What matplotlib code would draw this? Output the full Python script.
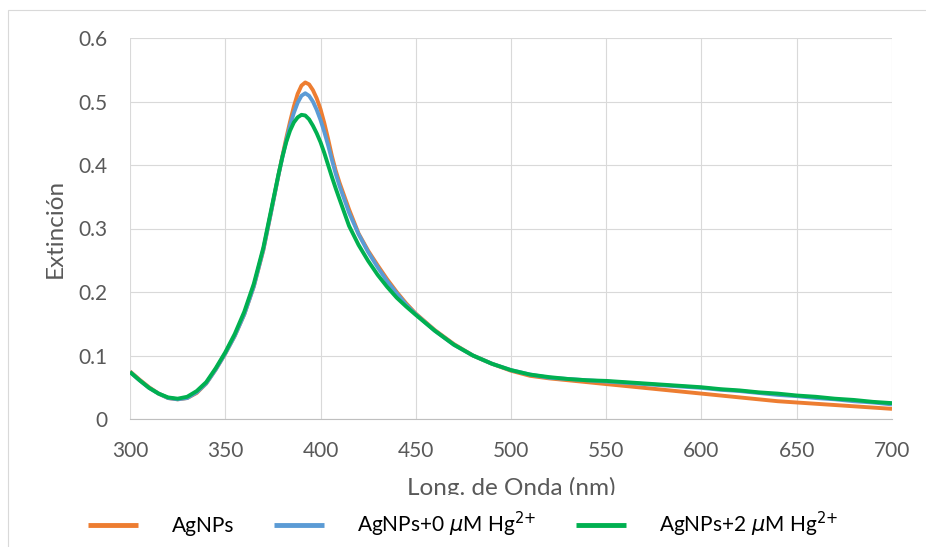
import matplotlib
matplotlib.use("Agg")
import matplotlib.pyplot as plt
from matplotlib.patches import Rectangle

plt.rcParams['font.family'] = ['Lato', 'DejaVu Sans']

# longitud de onda (nm), mas fina cerca del maximo de plasmon
wl = [300, 305, 310, 315, 320, 325, 330, 335, 340, 345,
      350, 355, 360, 365, 370,
      374, 376, 378, 380, 382, 384, 386, 388, 390, 392,
      394, 396, 398, 400, 402, 404, 406, 408, 410,
      415, 420, 425, 430, 435, 440, 445, 450,
      460, 470, 480, 490, 500, 510, 520, 530, 540,
      550, 560, 570, 580, 590, 600, 610, 620, 630, 640,
      650, 660, 670, 680, 690, 700]

agnps = [0.075, 0.062, 0.050, 0.040, 0.033, 0.031, 0.033, 0.041, 0.056, 0.078,
         0.103, 0.131, 0.165, 0.209, 0.266,
         0.325, 0.355, 0.385, 0.414, 0.442, 0.468, 0.492, 0.512, 0.525, 0.530,
         0.527, 0.518, 0.505, 0.488, 0.466, 0.441, 0.414, 0.391, 0.372,
         0.330, 0.292, 0.265, 0.242, 0.220, 0.200, 0.182, 0.166,
         0.140, 0.118, 0.100, 0.087, 0.076, 0.068, 0.064, 0.061, 0.058,
         0.055, 0.052, 0.049, 0.046, 0.043, 0.040, 0.037, 0.034, 0.031, 0.028,
         0.026, 0.024, 0.022, 0.020, 0.018, 0.016]

agnps_0hg = [0.074, 0.061, 0.049, 0.040, 0.033, 0.031, 0.033, 0.042, 0.056, 0.078,
             0.103, 0.131, 0.165, 0.209, 0.267,
             0.325, 0.355, 0.385, 0.412, 0.438, 0.462, 0.482, 0.498, 0.509, 0.513,
             0.509, 0.500, 0.487, 0.471, 0.452, 0.431, 0.408, 0.386, 0.367,
             0.325, 0.291, 0.263, 0.239, 0.217, 0.198, 0.180, 0.165,
             0.139, 0.117, 0.100, 0.087, 0.077, 0.070, 0.065, 0.063, 0.061,
             0.059, 0.057, 0.055, 0.053, 0.051, 0.049, 0.046, 0.044, 0.041, 0.038,
             0.036, 0.033, 0.031, 0.028, 0.026, 0.023]

agnps_2hg = [0.074, 0.061, 0.049, 0.040, 0.034, 0.032, 0.035, 0.044, 0.058, 0.080,
             0.105, 0.134, 0.169, 0.213, 0.270,
             0.328, 0.357, 0.386, 0.413, 0.436, 0.454, 0.467, 0.475, 0.479, 0.478,
             0.472, 0.462, 0.450, 0.436, 0.419, 0.400, 0.381, 0.363, 0.346,
             0.304, 0.274, 0.249, 0.227, 0.208, 0.191, 0.177, 0.164,
             0.139, 0.117, 0.100, 0.087, 0.077, 0.070, 0.066, 0.063, 0.061,
             0.060, 0.058, 0.056, 0.054, 0.052, 0.050, 0.047, 0.045, 0.042, 0.040,
             0.037, 0.035, 0.032, 0.030, 0.027, 0.025]

labels = ['AgNPs', r'AgNPs+0 $\mu$M Hg$^{2{+}}$', r'AgNPs+2 $\mu$M Hg$^{2{+}}$']
colores = ['#ED7D31', '#5B9BD5', '#00B050']

fig = plt.figure(figsize=(9.26, 5.47), dpi=100)
ax = fig.add_axes([130/926, 128/547, 762/926, 381/547])

for serie, lab, c in zip([agnps, agnps_0hg, agnps_2hg], labels, colores):
    ax.plot(wl, serie, color=c, lw=2.8, label=lab, solid_joinstyle='round', solid_capstyle='butt')

ax.set_xlim(300, 700)
ax.set_ylim(0, 0.6)
ax.set_xticks(range(300, 701, 50))
ax.set_yticks([0, 0.1, 0.2, 0.3, 0.4, 0.5, 0.6])
ax.set_yticklabels(['0', '0.1', '0.2', '0.3', '0.4', '0.5', '0.6'])
ax.grid(True, color='#D9D9D9', lw=0.8)
ax.set_axisbelow(True)
for s in ['top', 'right', 'left']:
    ax.spines[s].set_visible(False)
ax.spines['bottom'].set_color('#BFBFBF')
ax.spines['bottom'].set_linewidth(0.8)
ax.tick_params(length=0, labelsize=15, labelcolor='#595959')
ax.tick_params(axis='x', pad=16)
ax.tick_params(axis='y', pad=16)

ax.set_xlabel('Long. de Onda (nm)', fontsize=17.5, color='#595959', labelpad=11)
ax.set_ylabel('Extinción', fontsize=17.5, color='#595959', labelpad=9)

leg = fig.legend(loc='center', bbox_to_anchor=(0.5, 0.042), ncol=3, fontsize=15,
                 frameon=True, handlelength=2.4, handletextpad=1.6, columnspacing=1.9,
                 borderpad=0.7)
leg.get_frame().set_facecolor('white')
leg.get_frame().set_edgecolor('none')
leg.get_frame().set_alpha(1)
for h in leg.legend_handles:
    h.set_linewidth(3.5)

# marco del grafico
fig.patches.append(Rectangle((8/926, -0.1), 1.5, 0.1 + 537/547, transform=fig.transFigure,
                             fill=False, ec='#D9D9D9', lw=0.8))

fig.savefig('out.png', dpi=100)
